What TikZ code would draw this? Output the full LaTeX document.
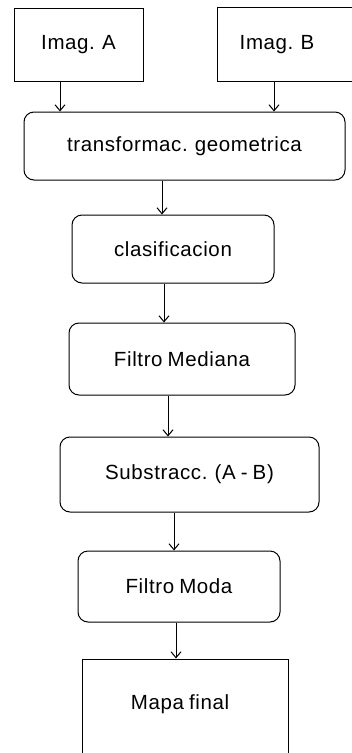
\documentclass[tikz,border=0pt]{standalone}
\usepackage{fontspec}
\setmainfont{Liberation Sans}[LetterSpace=3,WordSpace=0.8]
\usetikzlibrary{arrows.meta}
\begin{document}
\begin{tikzpicture}[x=1pt,y=-1pt,
  txt/.style={font=\fontsize{20.5}{24}\selectfont},
  box/.style={draw=black, line width=1pt, inner sep=0pt, txt},
  rbox/.style={box, rounded corners=10pt},
  arr/.style={line width=1pt, -{Straight Barb[length=6pt,width=10pt,line width=1pt]}}]
\useasboundingbox (0,0) rectangle (352,753);
\fill[white] (0,0) rectangle (352,753);
\node[box, minimum width=129pt, minimum height=73pt] (A) at (78.5,44.5) {Imag. A};
\node[box, minimum width=145pt, minimum height=74pt] (B) at (289.5,44) {};
\node[txt, inner sep=0pt] (Bt) at (277,44.5) {Imag. B};
\node[rbox, minimum width=321pt, minimum height=68pt] (T) at (184.5,146) {transformac. geometrica};
\node[rbox, minimum width=202pt, minimum height=68pt] (C) at (173,249) {clasificacion};
\node[rbox, minimum width=226pt, minimum height=72pt] (FM) at (182,359) {Filtro Mediana};
\node[rbox, minimum width=259pt, minimum height=75pt] (S) at (189.5,474.5) {Substracc. (A - B)};
\node[rbox, minimum width=202pt, minimum height=71pt] (FMo) at (179,586.5) {Filtro Moda};
\node[box, minimum width=206pt, minimum height=111pt] (M) at (185,714.5) {};
\node[txt, inner sep=0pt] (Mt) at (180,704) {Mapa final};
\draw[arr] (A.south -| 60,0) -- (T.north -| 60,0);
\draw[arr] (B.south -| 274,0) -- (T.north -| 274,0);
\draw[arr] (T.south -| 162,0) -- (C.north -| 162,0);
\draw[arr] (C.south -| 164,0) -- (FM.north -| 164,0);
\draw[arr] (FM.south -| 168,0) -- (S.north -| 168,0);
\draw[arr] (S.south -| 174,0) -- (FMo.north -| 174,0);
\draw[arr] (FMo.south -| 176,0) -- (M.north -| 176,0);
\end{tikzpicture}
\end{document}
